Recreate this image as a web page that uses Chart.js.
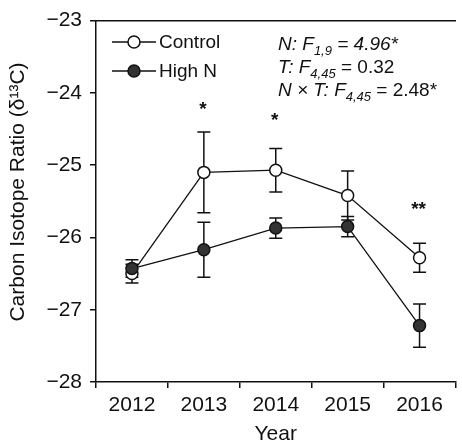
<!DOCTYPE html>
<html>
<head>
<meta charset="utf-8">
<script src="https://cdn.jsdelivr.net/npm/chart.js@4/dist/chart.umd.min.js"></script>
<style>
  html, body { margin: 0; padding: 0; background: #fff; overflow: hidden; }
  #wrap { position: absolute; left: 0; top: 0; width: 463px; height: 447px; }
</style>
</head>
<body>
<div id="wrap"><canvas id="c" width="463" height="447"></canvas></div>
<script>
const years = ['2012', '2013', '2014', '2015', '2016'];
const controlMean = [-26.50, -25.10, -25.07, -25.42, -26.28];
const controlErr  = [0.13, 0.56, 0.30, 0.34, 0.20];
const highNMean   = [-26.43, -26.17, -25.87, -25.85, -27.22];
const highNErr    = [0.12, 0.38, 0.14, 0.14, 0.30];
const sigLabels   = ['', '*', '*', '', '**'];
const sigY        = [null, -24.25, -24.40, null, -25.64];
const yTicks      = [-28, -27, -26, -25, -24, -23];
const seriesNames = ['Control', 'High N'];
const yTitle = 'Carbon Isotope Ratio (\u03b4\u00b9\u00b3C)';

const FONT = "'Liberation Sans', Arial, Helvetica, sans-serif";
const INK = '#111';

const errorBars = {
  id: 'errorBars',
  beforeDatasetsDraw(chart) {
    const ctx = chart.ctx;
    const ys = chart.scales.y;
    const errs = [controlErr, highNErr];
    const means = [controlMean, highNMean];
    ctx.save();
    ctx.strokeStyle = INK;
    ctx.lineWidth = 1.5;
    chart.data.datasets.forEach((ds, di) => {
      const meta = chart.getDatasetMeta(di);
      meta.data.forEach((pt, i) => {
        const x = pt.x;
        const yHi = ys.getPixelForValue(means[di][i] + errs[di][i]);
        const yLo = ys.getPixelForValue(means[di][i] - errs[di][i]);
        ctx.beginPath();
        ctx.moveTo(x, yHi); ctx.lineTo(x, yLo);
        ctx.moveTo(x - 6.5, yHi); ctx.lineTo(x + 6.5, yHi);
        ctx.moveTo(x - 6.5, yLo); ctx.lineTo(x + 6.5, yLo);
        ctx.stroke();
      });
    });
    ctx.restore();
  }
};

function drawRuns(ctx, x, y, runs) {
  runs.forEach(r => {
    ctx.font = (r.italic ? 'italic ' : '') + r.size + 'px ' + FONT;
    ctx.fillText(r.t, x, y + (r.dy || 0));
    x += ctx.measureText(r.t).width;
  });
}

const overlay = {
  id: 'overlay',
  afterDraw(chart) {
    const ctx = chart.ctx;
    const xs = chart.scales.x, ys = chart.scales.y;
    ctx.save();
    ctx.fillStyle = INK;
    // y axis title
    ctx.save();
    ctx.translate(18, 192);
    ctx.rotate(-Math.PI / 2);
    ctx.font = '21px ' + FONT;
    ctx.textAlign = 'center';
    ctx.textBaseline = 'middle';
    ctx.fillText(yTitle, 0, 0);
    ctx.restore();
    // significance asterisks
    ctx.font = 'bold 19px ' + FONT;
    ctx.textAlign = 'center';
    ctx.textBaseline = 'alphabetic';
    sigLabels.forEach((s, i) => {
      if (!s) return;
      ctx.fillText(s, xs.getPixelForValue(i) - 1, ys.getPixelForValue(sigY[i]) + 4);
    });
    // legend
    const dss = chart.data.datasets;
    const rows = [42, 71];
    ctx.textAlign = 'left';
    ctx.textBaseline = 'middle';
    rows.forEach((ry, k) => {
      const ds = dss[k];
      ctx.strokeStyle = INK;
      ctx.lineWidth = 1.5;
      ctx.beginPath(); ctx.moveTo(112, ry); ctx.lineTo(156, ry); ctx.stroke();
      ctx.beginPath(); ctx.arc(134, ry, 6, 0, Math.PI * 2);
      ctx.fillStyle = ds.pointBackgroundColor; ctx.fill();
      ctx.strokeStyle = ds.pointBorderColor; ctx.stroke();
      ctx.fillStyle = INK;
      ctx.font = '19px ' + FONT;
      ctx.fillText(seriesNames[k], 159, ry + 1);
    });
    // ANOVA annotation
    ctx.textBaseline = 'alphabetic';
    const x0 = 278;
    drawRuns(ctx, x0, 50, [
      {t: 'N: F', italic: true, size: 19},
      {t: '1,9', italic: true, size: 13, dy: 5},
      {t: ' = 4.96*', italic: true, size: 19}
    ]);
    drawRuns(ctx, x0, 73, [
      {t: 'T: F', italic: true, size: 19},
      {t: '4,45', italic: true, size: 13, dy: 5},
      {t: ' = 0.32', italic: false, size: 19}
    ]);
    drawRuns(ctx, x0, 96, [
      {t: 'N \u00d7 T: F', italic: true, size: 19},
      {t: '4,45', italic: true, size: 13, dy: 5},
      {t: ' = 2.48*', italic: false, size: 19}
    ]);
    ctx.restore();
  }
};

new Chart(document.getElementById('c'), {
  type: 'line',
  data: {
    labels: years,
    datasets: [
      {
        label: seriesNames[0], data: controlMean, order: 1,
        borderColor: INK, borderWidth: 1.3, tension: 0,
        pointRadius: 6, pointHoverRadius: 6, pointBorderWidth: 1.5,
        pointBackgroundColor: '#ffffff', pointBorderColor: INK
      },
      {
        label: seriesNames[1], data: highNMean, order: 0,
        borderColor: INK, borderWidth: 1.3, tension: 0,
        pointRadius: 6, pointHoverRadius: 6, pointBorderWidth: 1.5,
        pointBackgroundColor: '#333333', pointBorderColor: INK
      }
    ]
  },
  options: {
    responsive: false,
    animation: false,
    layout: { padding: { left: 0, top: 15, right: 0, bottom: 0 } },
    plugins: { legend: { display: false }, tooltip: { enabled: false } },
    scales: {
      x: {
        type: 'category', position: 'bottom', offset: true,
        grid: { display: true, offset: true, drawOnChartArea: false, drawTicks: true, tickLength: 6, color: INK, lineWidth: 1.5 },
        border: { display: true, color: INK, width: 1.5 },
        ticks: { color: INK, font: { family: FONT, size: 21 }, padding: 5, maxRotation: 0 },
        title: { display: true, text: 'Year', color: INK, font: { family: FONT, size: 21 }, padding: { top: 0, bottom: 0 } },
        afterFit(s) { s.height = 65; }
      },
      xTop: {
        type: 'category', position: 'top', offset: true, labels: years,
        grid: { display: false },
        border: { display: true, color: INK, width: 1.5 },
        ticks: { display: false },
        afterFit(s) { s.height = 0; }
      },
      y: {
        type: 'linear', position: 'left', min: -28, max: -23,
        afterBuildTicks(s) { s.ticks = yTicks.map(v => ({ value: v })); },
        grid: { display: true, drawOnChartArea: false, drawTicks: true, tickLength: 6, color: INK, lineWidth: 1.5 },
        border: { display: true, color: INK, width: 1.5 },
        ticks: { color: INK, font: { family: FONT, size: 21 }, padding: 8,
                 callback: v => String(v).replace('-', '\u2212') },
        title: { display: false },
        afterFit(s) { s.width = 96; }
      }
    }
  },
  plugins: [errorBars, overlay]
});
</script>
</body>
</html>
